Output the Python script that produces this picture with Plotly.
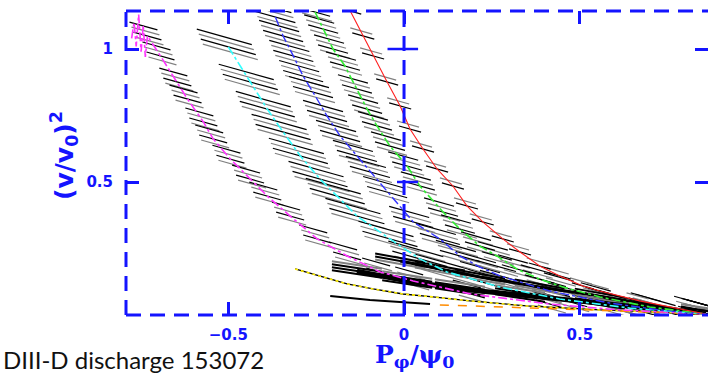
import plotly.graph_objects as go

# ---------------- data (x = P_phi/psi0, y = (v/v0)^2) ----------------
mag_x = [-0.775, -0.768, -0.762, -0.755, -0.748, -0.742, -0.736, -0.730, -0.693, -0.645, -0.616, -0.571,
         -0.543, -0.494, -0.438, -0.389, -0.324, -0.247, -0.162, -0.068, 0.026, 0.19, 0.415, 0.614, 0.858]
mag_y = [1.04, 1.10, 1.01, 1.13, 0.99, 1.09, 0.97, 1.049, 0.974, 0.876, 0.812, 0.726,
         0.662, 0.586, 0.511, 0.447, 0.372, 0.286, 0.222, 0.162, 0.128, 0.079, 0.041, 0.019, 0.004]

cyan_x = [-0.500, -0.4375, -0.389, -0.344, -0.295, -0.239, -0.190, -0.134, -0.040, 0.045, 0.122,
          0.273, 0.443, 0.642, 0.858]
cyan_y = [1.008, 0.876, 0.774, 0.688, 0.598, 0.511, 0.447, 0.372, 0.286, 0.211, 0.162,
          0.105, 0.060, 0.026, 0.004]

blue_x = [-0.366, -0.344, -0.315, -0.287, -0.259, -0.219, -0.182, -0.134, -0.097, -0.048, 0.026,
          0.102, 0.159, 0.216, 0.273, 0.415, 0.585, 0.727, 0.858]
blue_y = [1.120, 1.049, 0.974, 0.898, 0.838, 0.748, 0.673, 0.598, 0.538, 0.462, 0.350,
          0.286, 0.222, 0.180, 0.147, 0.090, 0.045, 0.019, 0.004]

green_x = [-0.253, -0.230, -0.202, -0.168, -0.134, -0.105, -0.077, -0.040, 0.009, 0.045, 0.111,
           0.159, 0.216, 0.264, 0.321, 0.386, 0.452, 0.557, 0.699, 0.858]
green_y = [1.139, 1.075, 1.000, 0.936, 0.850, 0.774, 0.711, 0.635, 0.560, 0.485, 0.387,
           0.323, 0.259, 0.222, 0.173, 0.135, 0.105, 0.068, 0.030, 0.004]

red_x = [-0.153, -0.116, -0.088, -0.048, -0.011, 0.017, 0.054, 0.094, 0.139, 0.179, 0.224,
         0.281, 0.330, 0.386, 0.443, 0.509, 0.557, 0.670, 0.858]
red_y = [1.143, 1.049, 0.974, 0.876, 0.786, 0.699, 0.624, 0.549, 0.485, 0.410, 0.350,
         0.286, 0.237, 0.184, 0.147, 0.109, 0.090, 0.053, 0.004]

band1_x = [-0.134, 0.009, 0.159, 0.330, 0.557, 0.859]
band1_y = [0.165, 0.128, 0.098, 0.075, 0.049, 0.004]

band2_x = [-0.011, 0.102, 0.216, 0.386, 0.557, 0.859]
band2_y = [0.203, 0.173, 0.143, 0.105, 0.071, 0.004]

yellow_x = [-0.310, -0.230, -0.162, -0.088, -0.003, 0.082, 0.1875, 0.349, 0.557, 0.858]
yellow_y = [0.173, 0.143, 0.117, 0.098, 0.079, 0.068, 0.053, 0.034, 0.019, 0.004]

black_x = [-0.210, -0.097, 0.074]
black_y = [0.071, 0.056, 0.041]

orange_x = [0.102, 0.281, 0.423, 0.614, 0.858]
orange_y = [0.038, 0.030, 0.023, 0.015, 0.004]

x_ticks = [-0.5, 0, 0.5]
x_tick_labels = ["\u22120.5", "0", "0.5"]
y_ticks = [0.5, 1]
y_tick_labels = ["0.5", "1"]

# ---------------- styling ----------------
BLUE = "#1414ff"
XR = [-0.791, 0.8648]
YR = [0.0, 1.1429]
PXX = 1 / 351.5   # data units per pixel (x)
PXY = 1 / 266.0   # data units per pixel (y)
GRAY = "#808080"
BLK = "#000000"

fig = go.Figure()


def add_dashes(xs, ys, len_px, slope=0.28, width=1.2,
               stack=((0, 0, BLK), (-2, 5, GRAY), (2, -5, GRAY), (-4, 10, BLK))):
    segs = {}
    for x, y in zip(xs, ys):
        for ox, oy, col in stack:
            cx = x + ox * PXX
            cy = y + oy * PXY
            hx = len_px / 2 * PXX
            hy = len_px / 2 * slope * PXY
            sx, sy = segs.setdefault(col, ([], []))
            sx += [cx - hx, cx + hx, None]
            sy += [cy + hy, cy - hy, None]
    for col in sorted(segs, key=lambda c: c == BLK):
        sx, sy = segs[col]
        fig.add_trace(go.Scatter(x=sx, y=sy, mode="lines", line=dict(color=col, width=width),
                                 hoverinfo="skip", showlegend=False))


add_dashes(mag_x[7:], mag_y[7:], 28)
add_dashes(cyan_x, cyan_y, 55)
add_dashes(blue_x, blue_y, 40)
add_dashes(green_x, green_y, 30)
add_dashes(red_x, red_y, 22, stack=((0, 0, BLK), (-2, 5, GRAY)))
add_dashes(band1_x, band1_y, 50, slope=0.15, width=2,
           stack=((0, 0, BLK), (0, 3, BLK), (0, -3, BLK), (0, 6, GRAY)))
add_dashes(band2_x, band2_y, 50, slope=0.18, width=2,
           stack=((0, 0, BLK), (0, 3, BLK), (0, -3, GRAY)))

for bx, by, w in [(band1_x, band1_y, 5), (band2_x, band2_y, 3)]:
    fig.add_trace(go.Scatter(x=bx, y=by, mode="lines", line=dict(color=BLK, width=w),
                             hoverinfo="skip", showlegend=False))
fig.add_trace(go.Scatter(x=yellow_x, y=yellow_y, mode="lines", line=dict(color=BLK, width=1.3),
                         hoverinfo="skip", showlegend=False))
fig.add_trace(go.Scatter(x=yellow_x, y=yellow_y, mode="lines", line=dict(color="#ffee00", width=1.6, dash="dot"),
                         hoverinfo="skip", showlegend=False))
fig.add_trace(go.Scatter(x=black_x, y=black_y, mode="lines", line=dict(color=BLK, width=2),
                         hoverinfo="skip", showlegend=False))
fig.add_trace(go.Scatter(x=orange_x, y=orange_y, mode="lines", line=dict(color="#ff8c00", width=1.5, dash="dash"),
                         hoverinfo="skip", showlegend=False))

for xs, ys, col, dash, w in [(mag_x, mag_y, "#ff33ff", "dashdot", 1.6),
                             (cyan_x, cyan_y, "#33ffff", "dashdot", 1.6),
                             (blue_x, blue_y, "#3333ff", "dashdot", 1.4),
                             (green_x, green_y, "#33ee33", "dashdot", 1.6),
                             (red_x, red_y, "#ff2020", "solid", 1.1)]:
    fig.add_trace(go.Scatter(x=xs, y=ys, mode="lines", line=dict(color=col, width=w, dash=dash),
                             hoverinfo="skip", showlegend=False))

DASH = "15px,9px"
shapes = [
    dict(type="line", xref="paper", yref="paper", x0=0, x1=1, y0=1, y1=1, line=dict(color=BLUE, width=3, dash=DASH)),
    dict(type="line", xref="paper", yref="paper", x0=0, x1=1, y0=0, y1=0, line=dict(color=BLUE, width=3, dash=DASH)),
    dict(type="line", xref="paper", yref="paper", x0=0, x1=0, y0=0, y1=1, line=dict(color=BLUE, width=3, dash=DASH)),
    dict(type="line", xref="x", yref="paper", x0=0, x1=0, y0=0, y1=1, layer="above",
         line=dict(color=BLUE, width=3, dash=DASH)),
    dict(type="line", xref="x", yref="y", x0=-0.047, x1=0.04, y0=1, y1=1, line=dict(color=BLUE, width=2.5)),
    dict(type="line", xref="x", yref="y", x0=-0.02, x1=0.04, y0=0.5, y1=0.5, line=dict(color=BLUE, width=2.5)),
]

axis_common = dict(showgrid=False, zeroline=False, ticks="inside", ticklen=13, tickwidth=2.5,
                   tickcolor=BLUE, showline=True, linecolor="rgba(0,0,0,0)", mirror="ticks",
                   tickfont=dict(family="DejaVu Sans", size=15, color=BLUE))

fig.update_layout(
    width=708, height=374, margin=dict(l=126, r=0, t=11, b=59),
    paper_bgcolor="white", plot_bgcolor="white", showlegend=False,
    xaxis=dict(range=XR, tickvals=x_ticks, ticktext=["<b>%s</b>" % t for t in x_tick_labels],
               ticklabelstandoff=6, **axis_common),
    yaxis=dict(range=YR, tickvals=y_ticks, ticktext=["<b>%s</b>" % t for t in y_tick_labels],
               ticklabelstandoff=9, **axis_common),
    shapes=shapes,
    annotations=[
        dict(text="<b>(v/v<sub>0</sub>)<sup>2</sup></b>", textangle=-90, xref="paper", yref="paper",
             x=(64 - 126) / 582, y=(315 - 156) / 304, xanchor="center", yanchor="middle", showarrow=False,
             font=dict(family="DejaVu Sans", size=25, color=BLUE)),
        dict(text="<b>P<sub>\u03c6</sub>/\u03c8<sub>0</sub></b>", xref="paper", yref="paper",
             x=(415 - 126) / 582, y=(315 - 356) / 304, xanchor="center", yanchor="middle", showarrow=False,
             font=dict(family="DejaVu Serif", size=25, color=BLUE)),
        dict(text="DIII-D discharge 153072", xref="paper", yref="paper",
             x=(1 - 126) / 582, y=(315 - 359) / 304, xanchor="left", yanchor="middle", showarrow=False,
             font=dict(family="Lato", size=24, color="#111111")),
    ],
)

fig.write_html("out.html")
